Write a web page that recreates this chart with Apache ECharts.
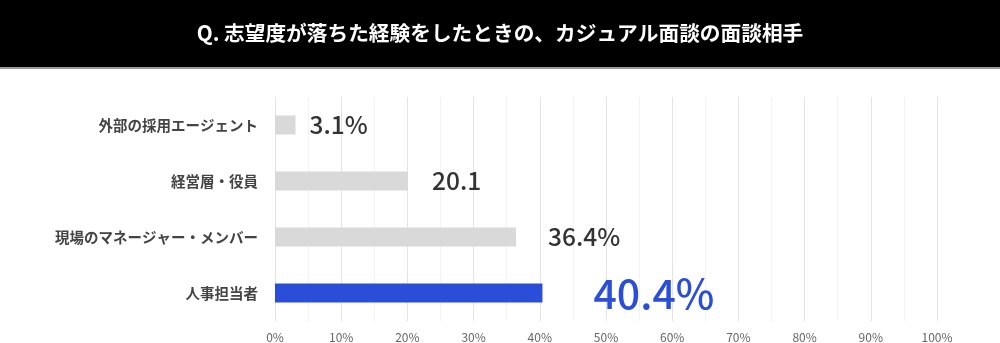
<!DOCTYPE html>
<html>
<head>
<meta charset="utf-8">
<script src="https://cdn.jsdelivr.net/npm/echarts@6/dist/echarts.min.js"></script>
<style>
html,body{margin:0;padding:0;background:#fff;}
#chart{width:1000px;height:343px;}
</style>
</head>
<body>
<div id="chart"></div>
<script>
const titleText = 'Q. 志望度が落ちた経験をしたときの、カジュアル面談の面談相手';
const categories = ['外部の採用エージェント', '経営層・役員', '現場のマネージャー・メンバー', '人事担当者'];
const values = [3.1, 20.1, 36.4, 40.4];
const valueLabels = ['3.1%', '20.1', '36.4%', '40.4%'];
const highlightIndex = 3;
const xMin = 0, xMax = 100, xStep = 10;

const FONT = '"Noto Sans CJK JP", "Noto Sans", sans-serif';
const chart = echarts.init(document.getElementById('chart'), null, {renderer: 'canvas'});

const labelDistances = [14, 24, 32, 51];

const data = values.map((v, i) => {
  const hi = i === highlightIndex;
  return {
    value: v,
    itemStyle: {color: hi ? '#2a4ed8' : '#d9d9d9'},
    label: {
      show: true,
      position: 'right',
      distance: labelDistances[i],
      formatter: () => valueLabels[i],
      color: hi ? '#2a4ed8' : '#333333',
      fontSize: hi ? 41 : 24.5,
      fontWeight: 500,
      fontFamily: FONT
    }
  };
});

chart.setOption({
  animation: false,
  backgroundColor: '#ffffff',
  graphic: [
    {type: 'rect', left: 0, top: 0, shape: {width: 1000, height: 67}, style: {fill: '#000000'}, z: 0},
    {type: 'rect', left: 0, top: 67, shape: {width: 1000, height: 2}, style: {fill: '#9a9a9a'}, z: 0}
  ],
  title: {
    text: titleText,
    left: 'center',
    top: 18,
    textStyle: {color: '#ffffff', fontSize: 20.7, fontWeight: 'bold', fontFamily: FONT}
  },
  grid: {left: 275, right: 63, top: 97, bottom: 22, containLabel: false},
  xAxis: {
    type: 'value',
    min: xMin, max: xMax, interval: xStep,
    axisLine: {show: false},
    axisTick: {show: false},
    axisLabel: {formatter: '{value}%', color: '#666666', fontSize: 12, fontFamily: FONT, margin: 10},
    splitLine: {show: true, lineStyle: {color: '#e3e3e3', width: 1}},
    minorTick: {show: false, splitNumber: 2},
    minorSplitLine: {show: true, lineStyle: {color: '#f3f3f3', width: 1}}
  },
  yAxis: {
    type: 'category',
    data: categories,
    inverse: true,
    axisLine: {show: false},
    axisTick: {show: false},
    axisLabel: {color: '#444444', fontSize: 14.5, fontWeight: 'bold', fontFamily: FONT, margin: 17}
  },
  series: [{
    type: 'bar',
    data: data,
    barWidth: 19,
    z: 3
  }]
});
</script>
</body>
</html>
